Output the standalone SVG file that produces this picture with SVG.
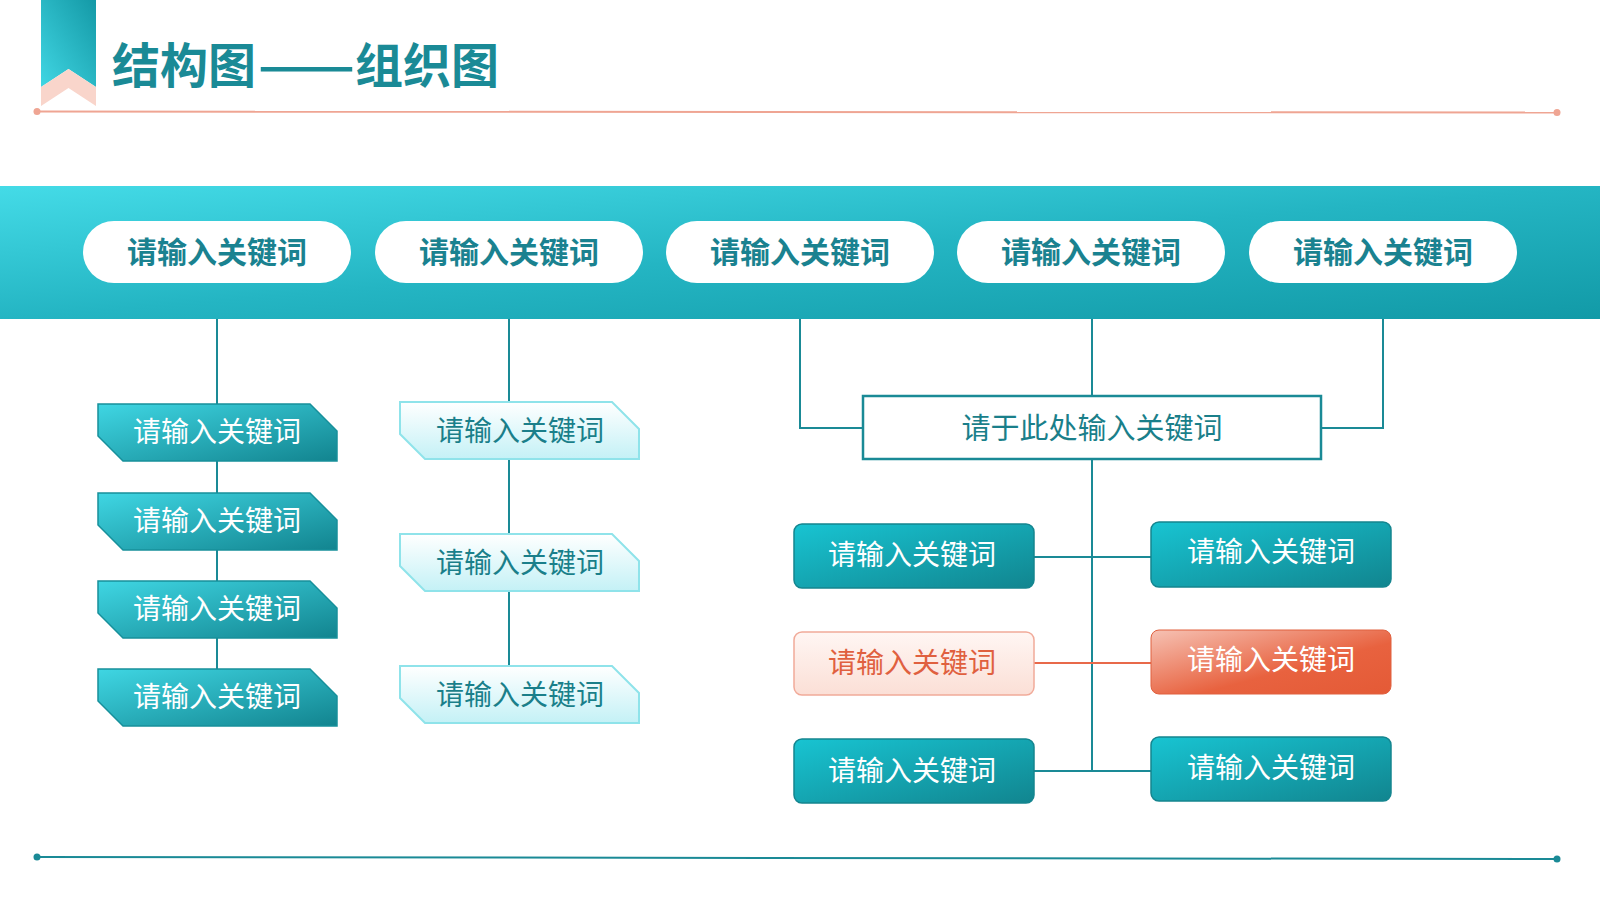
<svg xmlns="http://www.w3.org/2000/svg" width="1600" height="900" viewBox="0 0 1600 900">
<defs>
<linearGradient id="gBand" x1="0" y1="0" x2="1" y2="1" gradientUnits="objectBoundingBox">
<stop offset="0" stop-color="#44dbe7"/><stop offset="0.5" stop-color="#24b5c3"/><stop offset="1" stop-color="#129aa7"/>
</linearGradient>
<linearGradient id="gRibbon" x1="0" y1="1" x2="1" y2="0">
<stop offset="0" stop-color="#40d6e3"/><stop offset="1" stop-color="#1499a6"/>
</linearGradient>
<linearGradient id="gDark" x1="0" y1="0" x2="1" y2="1">
<stop offset="0" stop-color="#3fd6e3"/><stop offset="1" stop-color="#12848f"/>
</linearGradient>
<linearGradient id="gLight" x1="0" y1="0" x2="0" y2="1">
<stop offset="0" stop-color="#ffffff"/><stop offset="1" stop-color="#c4f1f6"/>
</linearGradient>
<linearGradient id="gTeal" x1="0" y1="0" x2="1" y2="1">
<stop offset="0" stop-color="#18c4d2"/><stop offset="1" stop-color="#11858f"/>
</linearGradient>
<linearGradient id="gPink" x1="0" y1="0" x2="0" y2="1">
<stop offset="0" stop-color="#fff6f3"/><stop offset="1" stop-color="#fbdfd6"/>
</linearGradient>
<linearGradient id="gCoral" x1="0" y1="0" x2="1" y2="1">
<stop offset="0" stop-color="#f6c2b4"/><stop offset="0.6" stop-color="#e8623f"/><stop offset="1" stop-color="#e45a36"/>
</linearGradient>
<path id="hex" d="M0,0 H212 L239,27 V57 H25 L0,32 Z"/>
</defs>
<style>
.ttl{font-family:"Noto Sans CJK SC","Noto Sans",sans-serif;font-weight:bold;font-size:48px;fill:#1a8a96}
.pill{fill:#ffffff}
.pt{font-family:"Noto Sans CJK SC",sans-serif;font-weight:bold;font-size:30px;fill:#1a8290;text-anchor:middle;dominant-baseline:central}
.t{font-family:"Noto Sans CJK SC",sans-serif;font-size:28px;text-anchor:middle;dominant-baseline:central}
.w{fill:#ffffff}
.tc{fill:#1a7f8a}
.co{fill:#e0603f}
.ln{stroke:#1a8a96;stroke-width:2;fill:none}
.lc{stroke:#e8694a;stroke-width:2;fill:none}
.hd{fill:url(#gDark);stroke:#17909b;stroke-width:1.5}
.hl{fill:url(#gLight);stroke:#8fe3ea;stroke-width:2}
.bt{fill:url(#gTeal);stroke:#14858f;stroke-width:1.5}
</style>
<rect width="1600" height="900" fill="#ffffff"/>

<g id="header">
<polygon points="41,0 96,0 96,87 68.5,69 41,87" fill="url(#gRibbon)"/>
<polygon points="41,87 68.5,69 96,87 96,106 68.5,88 41,106" fill="#f9d5cb"/>
<text x="112" y="83" class="ttl"><tspan>结构图</tspan><tspan x="258" textLength="97" lengthAdjust="spacingAndGlyphs">——</tspan><tspan x="355">组织图</tspan></text>
<line x1="37" y1="111.5" x2="1557" y2="112.5" stroke="#efa593" stroke-width="2"/>
<circle cx="37" cy="111.5" r="3.5" fill="#efa593"/>
<circle cx="1557" cy="112.5" r="3.5" fill="#efa593"/>
</g>

<g id="footer">
<line x1="37" y1="857" x2="1557" y2="859" stroke="#1a8a96" stroke-width="2"/>
<circle cx="37" cy="857" r="3.5" fill="#1a8a96"/>
<circle cx="1557" cy="859" r="3.5" fill="#1a8a96"/>
</g>

<rect id="band" x="0" y="186" width="1600" height="133" fill="url(#gBand)"/>

<g id="connectors">
<line class="ln" x1="217" y1="319" x2="217" y2="669"/>
<line class="ln" x1="509" y1="319" x2="509" y2="666"/>
<polyline class="ln" points="800,319 800,428 863,428"/>
<line class="ln" x1="1092" y1="319" x2="1092" y2="396"/>
<polyline class="ln" points="1383,319 1383,428 1321,428"/>
<line class="ln" x1="1092" y1="459" x2="1092" y2="772"/>
<line class="ln" x1="1034" y1="557" x2="1151" y2="557"/>
<line class="lc" x1="1034" y1="663" x2="1151" y2="663"/>
<line class="ln" x1="1034" y1="771" x2="1151" y2="771"/>
</g>

<g id="pill1"><rect class="pill" x="83" y="221" width="268" height="62" rx="31"/><text class="pt" x="217" y="250">请输入关键词</text></g>
<g id="pill2"><rect class="pill" x="375" y="221" width="268" height="62" rx="31"/><text class="pt" x="509" y="250">请输入关键词</text></g>
<g id="pill3"><rect class="pill" x="666" y="221" width="268" height="62" rx="31"/><text class="pt" x="800" y="250">请输入关键词</text></g>
<g id="pill4"><rect class="pill" x="957" y="221" width="268" height="62" rx="31"/><text class="pt" x="1091" y="250">请输入关键词</text></g>
<g id="pill5"><rect class="pill" x="1249" y="221" width="268" height="62" rx="31"/><text class="pt" x="1383" y="250">请输入关键词</text></g>

<g id="a1"><use href="#hex" x="98" y="404" class="hd"/><text class="t w" x="217" y="430">请输入关键词</text></g>
<g id="a2"><use href="#hex" x="98" y="493" class="hd"/><text class="t w" x="217" y="519">请输入关键词</text></g>
<g id="a3"><use href="#hex" x="98" y="581" class="hd"/><text class="t w" x="217" y="607">请输入关键词</text></g>
<g id="a4"><use href="#hex" x="98" y="669" class="hd"/><text class="t w" x="217" y="695">请输入关键词</text></g>

<g id="b1"><use href="#hex" x="400" y="402" class="hl"/><text class="t tc" x="520" y="429">请输入关键词</text></g>
<g id="b2"><use href="#hex" x="400" y="534" class="hl"/><text class="t tc" x="520" y="561">请输入关键词</text></g>
<g id="b3"><use href="#hex" x="400" y="666" class="hl"/><text class="t tc" x="520" y="693">请输入关键词</text></g>

<g id="center"><rect x="863" y="396" width="458" height="63" fill="#ffffff" stroke="#1a8a96" stroke-width="2.5"/><text class="t tc" x="1092" y="426" style="font-size:29px">请于此处输入关键词</text></g>

<g id="c1"><rect class="bt" x="794" y="524" width="240" height="64" rx="8"/><text class="t w" x="912" y="553">请输入关键词</text></g>
<g id="c2"><rect x="794" y="632" width="240" height="63" rx="8" fill="url(#gPink)" stroke="#f1aa99" stroke-width="1.5"/><text class="t co" x="912" y="661">请输入关键词</text></g>
<g id="c3"><rect class="bt" x="794" y="739" width="240" height="64" rx="8"/><text class="t w" x="912" y="769">请输入关键词</text></g>

<g id="d1"><rect class="bt" x="1151" y="522" width="240" height="65" rx="8"/><text class="t w" x="1271" y="550">请输入关键词</text></g>
<g id="d2"><rect x="1151" y="630" width="240" height="64" rx="8" fill="url(#gCoral)" stroke="#e0603f" stroke-width="1"/><text class="t w" x="1271" y="658">请输入关键词</text></g>
<g id="d3"><rect class="bt" x="1151" y="737" width="240" height="64" rx="8"/><text class="t w" x="1271" y="766">请输入关键词</text></g>
</svg>
